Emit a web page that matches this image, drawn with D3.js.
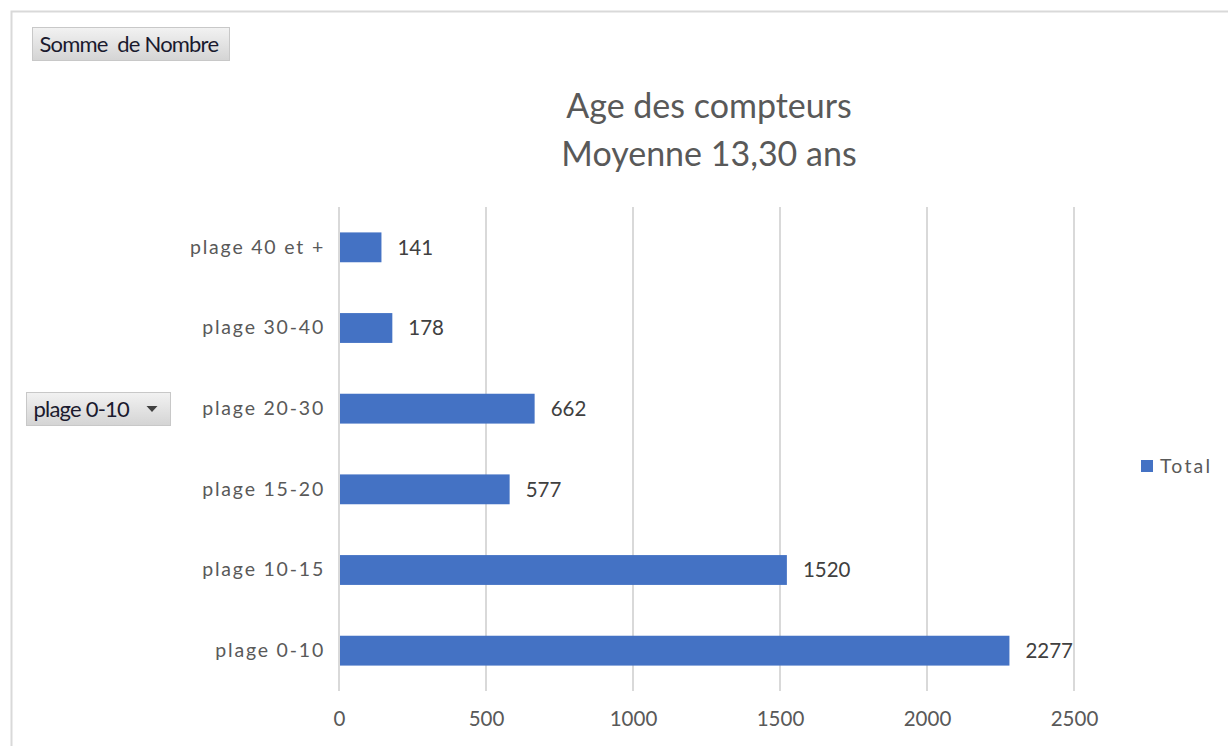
<!DOCTYPE html>
<html>
<head>
<meta charset="utf-8">
<script src="https://cdn.jsdelivr.net/npm/d3@7"></script>
<style>
  body { margin: 0; background: #fff; }
  svg { display: block; font-family: Lato, "Open Sans", sans-serif; }
</style>
</head>
<body>
<div id="chart"></div>
<script>
// donnees
const categories = ["plage 40 et +", "plage 30-40", "plage 20-30", "plage 15-20", "plage 10-15", "plage 0-10"];
const valeurs = [141, 178, 662, 577, 1520, 2277];
const ticks = [0, 500, 1000, 1500, 2000, 2500];
const titre = ["Age des compteurs", "Moyenne 13,30 ans"];
const serie = "Total";

const largeur = 1228, hauteur = 746;
const marges = { top: 207, right: 154, bottom: 55, left: 339 };

const svg = d3.select("#chart").append("svg")
    .attr("width", largeur)
    .attr("height", hauteur);

const defs = svg.append("defs");
const grad = defs.append("linearGradient")
    .attr("id", "btn").attr("x1", 0).attr("y1", 0).attr("x2", 0).attr("y2", 1);
grad.append("stop").attr("offset", "0%").attr("stop-color", "#f2f2f2");
grad.append("stop").attr("offset", "100%").attr("stop-color", "#d4d4d4");

// cadre
svg.append("path")
    .attr("d", `M11.5,${hauteur} V11.5 H${largeur}`)
    .attr("fill", "none")
    .attr("stroke", "#d9d9d9")
    .attr("stroke-width", 2);

const x = d3.scaleLinear()
    .domain([0, 2500])
    .range([marges.left, 1074]);

const y = d3.scaleBand()
    .domain(categories)
    .range([marges.top, hauteur - marges.bottom])
    .paddingInner(0.63)
    .paddingOuter(0.315);

// grille
svg.append("g")
    .selectAll("line")
    .data(ticks)
    .join("line")
    .attr("x1", d => x(d)).attr("x2", d => x(d))
    .attr("y1", marges.top).attr("y2", hauteur - marges.bottom)
    .attr("stroke", "#d9d9d9")
    .attr("stroke-width", 2);

// axe x
const axeX = svg.append("g")
    .attr("transform", `translate(0,${hauteur - marges.bottom})`)
    .call(d3.axisBottom(x).tickValues(ticks).tickFormat(d3.format("d")).tickSize(0).tickPadding(20));
axeX.select(".domain").remove();
axeX.selectAll("text")
    .attr("fill", "#595959")
    .style("font-size", "20.5px")
    .style("font-family", "Lato, sans-serif");

// axe y
const axeY = svg.append("g")
    .attr("transform", `translate(${marges.left},0)`)
    .call(d3.axisLeft(y).tickSize(0).tickPadding(14));
axeY.select(".domain").remove();
axeY.selectAll("text")
    .attr("fill", "#595959")
    .style("font-size", "19.5px")
    .style("letter-spacing", "1.8px")
    .style("font-family", "Lato, sans-serif");

// barres
svg.append("g")
    .selectAll("rect")
    .data(valeurs)
    .join("rect")
    .attr("x", x(0) + 1)
    .attr("y", (d, i) => y(categories[i]))
    .attr("width", d => x(d) - x(0))
    .attr("height", y.bandwidth())
    .attr("fill", "#4472c4");

// etiquettes
svg.append("g")
    .selectAll("text")
    .data(valeurs)
    .join("text")
    .attr("x", d => x(d) + 17)
    .attr("y", (d, i) => y(categories[i]) + y.bandwidth() / 2)
    .attr("dy", "0.35em")
    .attr("fill", "#404040")
    .style("font-size", "20.5px")
    .text(d => d);

// titre
svg.append("g")
    .selectAll("text")
    .data(titre)
    .join("text")
    .attr("x", 709)
    .attr("y", (d, i) => 118 + i * 48)
    .attr("text-anchor", "middle")
    .attr("fill", "#595959")
    .style("font-size", "34px")
    .text(d => d);

// legende
const legende = svg.append("g").attr("transform", "translate(1141,460)");
legende.append("rect")
    .attr("width", 12).attr("height", 12)
    .attr("fill", "#4472c4");
legende.append("text")
    .attr("x", 19).attr("y", 6)
    .attr("dy", "0.35em")
    .attr("fill", "#595959")
    .style("font-size", "19.5px")
    .style("letter-spacing", "2.2px")
    .text(serie);

// boutons du tableau croise
function bouton(bx, by, bw, bh, texte, fleche) {
    const g = svg.append("g").attr("transform", `translate(${bx},${by})`);
    g.append("rect")
        .attr("width", bw).attr("height", bh)
        .attr("fill", "url(#btn)")
        .attr("stroke", "#c8c8c8");
    g.append("text")
        .attr("x", 7).attr("y", bh / 2)
        .attr("dy", "0.35em")
        .attr("fill", "#1a1a2e")
        .style("font-size", "22px")
        .style("letter-spacing", "-0.8px")
        .style("white-space", "pre")
        .text(texte);
    if (fleche) {
        g.append("path")
            .attr("d", `M${bw - 24},${bh / 2 - 3} h11 l-5.5,6 z`)
            .attr("fill", "#404040");
    }
}
bouton(32.5, 27.5, 197, 33, "Somme  de Nombre", false);
bouton(26.5, 392.5, 144, 33, "plage 0-10", true);
</script>
</body>
</html>
